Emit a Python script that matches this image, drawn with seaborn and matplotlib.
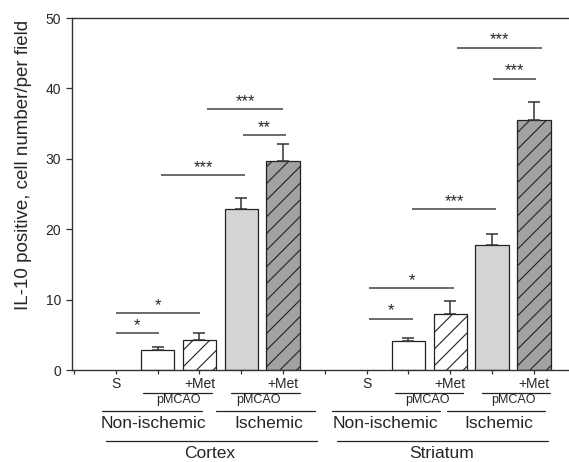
"""IL-10 positive cells per field, cortex vs striatum."""

import matplotlib
matplotlib.use("Agg")
import matplotlib.pyplot as plt
import matplotlib.transforms as mtransforms
import numpy as np
import pandas as pd
import seaborn as sns

# bar data: x slot, mean, sem (S groups are zero, no bar drawn)
positions = [2, 3, 4, 5, 8, 9, 10, 11]
means = [2.9, 4.2, 22.9, 29.7, 4.1, 8.0, 17.8, 35.5]
sems = [0.4, 1.1, 1.6, 2.4, 0.5, 1.8, 1.5, 2.5]
conditions = ["noni", "noni_met", "isch", "isch_met"] * 2

tick_labels = ["", "S", "", "+Met", "", "+Met", "", "S", "", "+Met", "", "+Met"]

# significance brackets
sig_x0 = [1.0, 1.0, 2.08, 3.18, 4.04, 7.05, 7.05, 8.09, 9.17, 10.02]
sig_x1 = [2.03, 3.01, 4.09, 5.0, 5.07, 8.1, 9.1, 10.1, 11.2, 11.06]
sig_y = [5.2, 8.05, 27.7, 37.1, 33.4, 7.3, 11.6, 22.8, 45.8, 41.4]
sig_text = ["*", "*", "***", "***", "**", "*", "*", "***", "***", "***"]

palette = {"noni": "white", "noni_met": "white", "isch": "#d4d4d4", "isch_met": "#a2a2a2"}
hatches = {"noni": "", "noni_met": "//", "isch": "", "isch_met": "//"}

sns.set_style("ticks")
plt.rcParams["font.family"] = ["Liberation Sans", "DejaVu Sans"]
plt.rcParams["hatch.linewidth"] = 0.8

df = pd.DataFrame({"pos": positions, "value": means, "cond": conditions})

fig = plt.figure(figsize=(5.69, 4.62), dpi=100)
ax = fig.add_axes([72 / 569, 92 / 462, 497 / 569, 352 / 462])

sns.barplot(data=df, x="pos", y="value", hue="cond", palette=palette,
            native_scale=True, dodge=False, width=0.8, errorbar=None,
            edgecolor="#222222", linewidth=0.9, legend=False, ax=ax)

bars = sorted([p for p in ax.patches if p.get_height() > 0], key=lambda p: p.get_x())
for bar, cond in zip(bars, conditions):
    bar.set_hatch(hatches[cond])
    bar.set_facecolor(palette[cond])

ax.errorbar(positions, means, yerr=[np.zeros(len(sems)), sems], fmt="none",
            ecolor="#333333", elinewidth=1.1, capsize=4.3, capthick=1.1)

for x0, x1, y, s in zip(sig_x0, sig_x1, sig_y, sig_text):
    ax.plot([x0, x1], [y, y], color="#444444", lw=1.1, solid_capstyle="butt")
    ax.text((x0 + x1) / 2, y, s, ha="center", va="bottom", fontsize=12)

ax.set_xlim(-0.05, 11.84)
ax.set_ylim(0, 50)
ax.set_yticks(range(0, 51, 10))
ax.set_xticks(range(12))
ax.set_xticklabels(tick_labels, fontsize=10)
ax.tick_params(axis="y", labelsize=10, length=4, width=0.9, pad=4, color="#333333")
ax.tick_params(axis="x", length=3, width=0.9, pad=2, color="#333333")
ax.set_xlabel("")
ax.set_ylabel("IL-10 positive, cell number/per field", fontsize=13.5)
ax.yaxis.set_label_coords(-0.08, 0.582)
for side in ["left", "bottom", "top"]:
    ax.spines[side].set_linewidth(1.0)
    ax.spines[side].set_color("#333333")
ax.spines["right"].set_visible(False)

# group labels below the axis (x in data, y in axes fraction)
trans = mtransforms.blended_transform_factory(ax.transData, ax.transAxes)


def yfrac(py):
    return (370 - py) / 352


def hline(x0, x1, py):
    ax.plot([x0, x1], [yfrac(py), yfrac(py)], color="#222222", lw=0.9,
            transform=trans, clip_on=False)


def label(x, py, s, size):
    ax.text(x, yfrac(py), s, ha="center", va="center", fontsize=size,
            transform=trans)


# pMCAO brackets
met_lines = [(1.64, 3.29), (3.76, 5.41), (7.68, 9.31), (9.75, 11.39)]
pmcao_x = [2.5, 4.4, 8.45, 10.51]
for (x0, x1), xt in zip(met_lines, pmcao_x):
    hline(x0, x1, 392.5)
    label(xt, 400.5, "pMCAO", 9)

# Non-ischemic / Ischemic
side_lines = [(0.67, 3.06), (3.40, 5.77), (6.17, 8.76), (8.92, 11.27)]
side_x = [1.9, 4.65, 7.44, 10.15]
side_text = ["Non-ischemic", "Ischemic", "Non-ischemic", "Ischemic"]
for (x0, x1), xt, s in zip(side_lines, side_x, side_text):
    hline(x0, x1, 411)
    label(xt, 423, s, 12.5)

# region
region_lines = [(0.76, 5.81), (6.28, 11.34)]
region_x = [3.25, 8.8]
region_text = ["Cortex", "Striatum"]
for (x0, x1), xt, s in zip(region_lines, region_x, region_text):
    hline(x0, x1, 441)
    label(xt, 453, s, 12.5)

fig.savefig("out.png", dpi=100)
